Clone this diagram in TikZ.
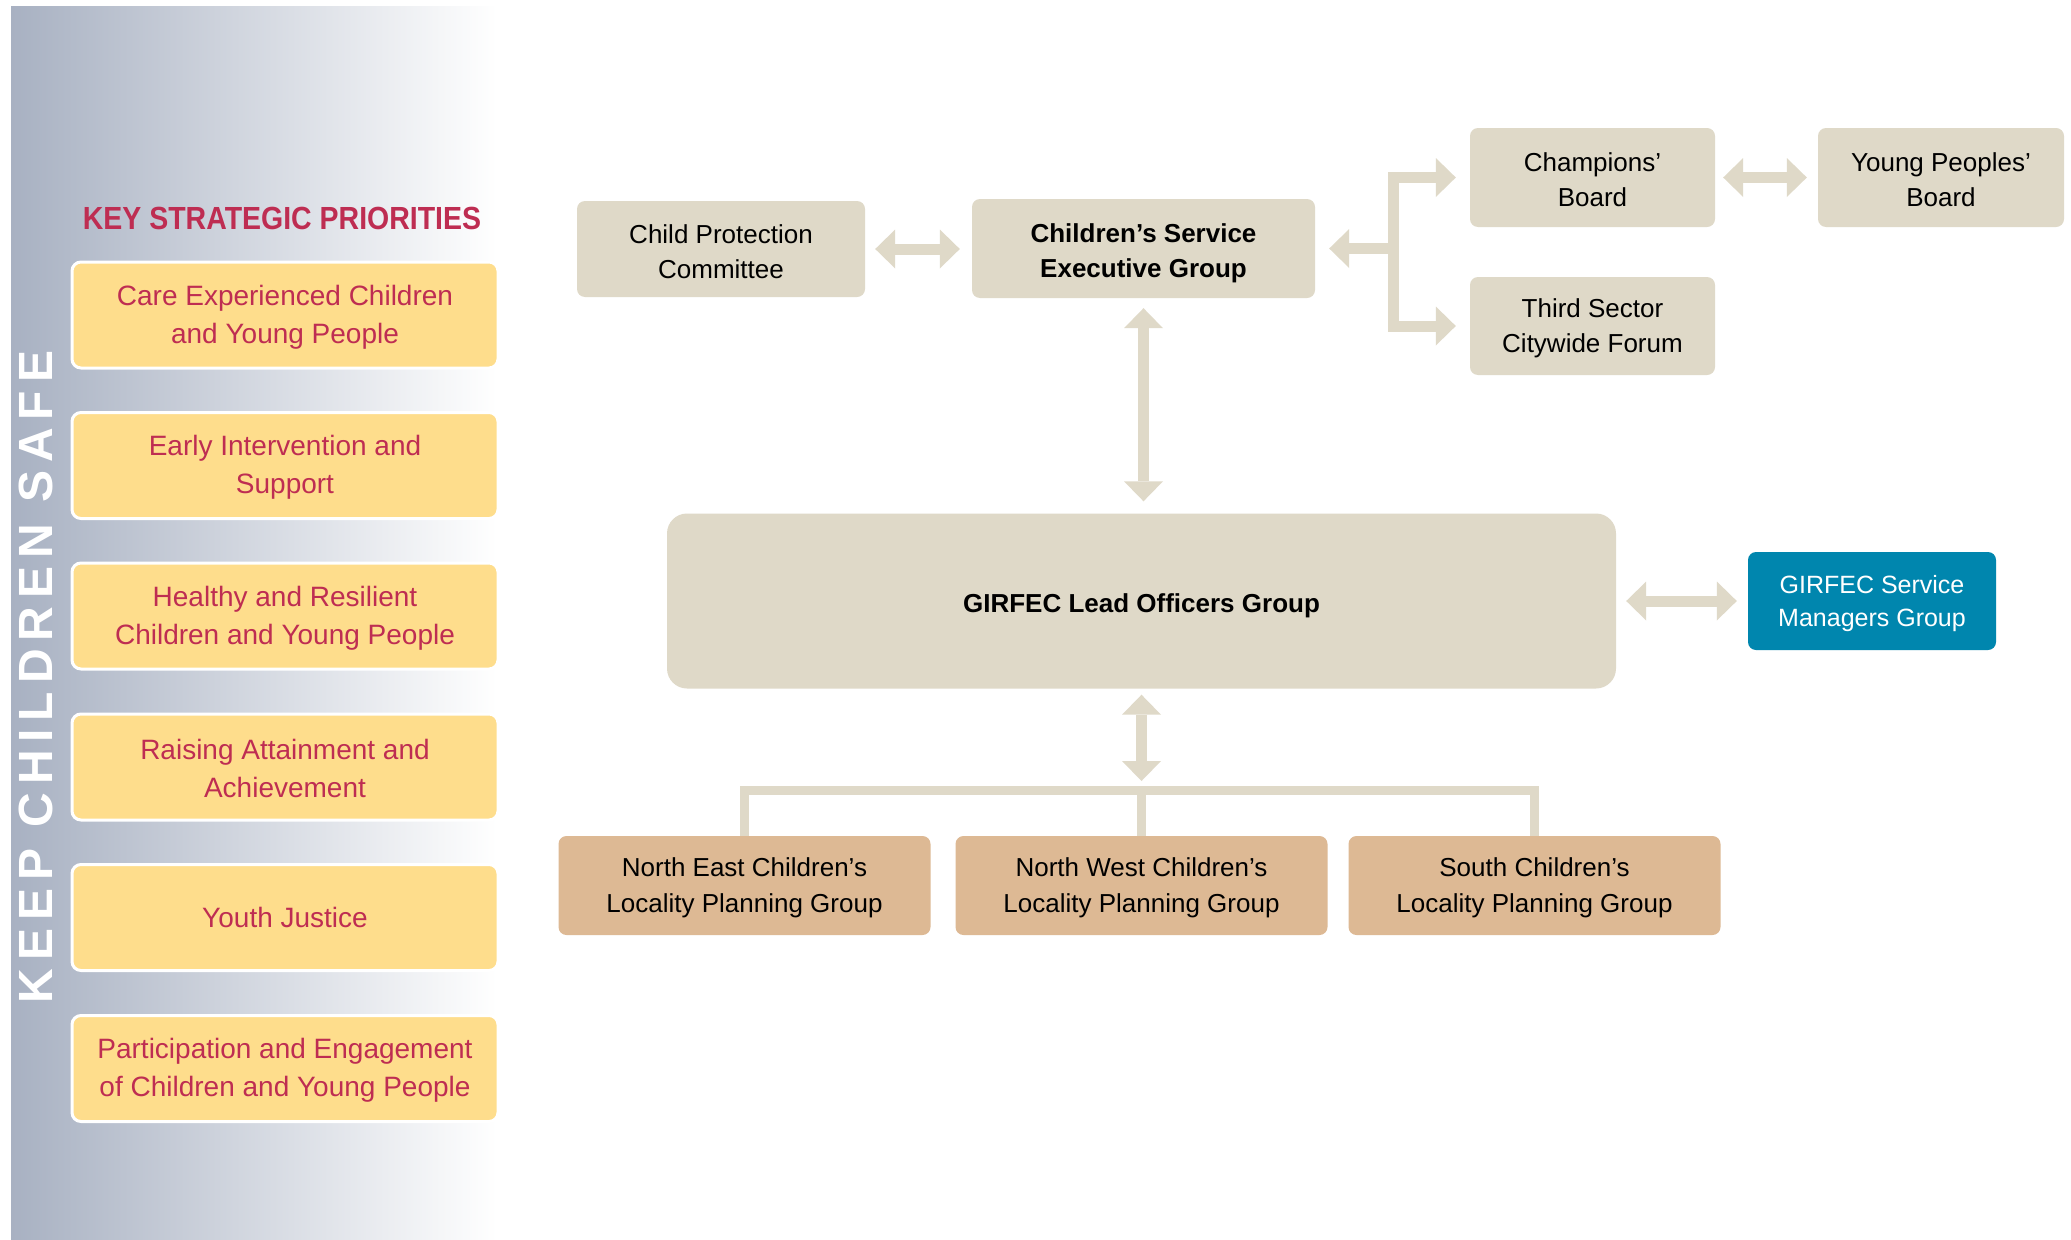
\documentclass[tikz,border=0pt]{standalone}
\usepackage{fontspec}
\setmainfont{Liberation Sans}
\newfontfamily\keepfont[LetterSpace=16.5]{Liberation Sans}
\usetikzlibrary{arrows.meta,calc}
\definecolor{beige}{HTML}{DFD9C8}
\definecolor{tanbox}{HTML}{DDB994}
\definecolor{gblue}{HTML}{0086AE}
\definecolor{prioyellow}{HTML}{FEDD8C}
\definecolor{crim}{HTML}{BE2D52}
\definecolor{panelgray}{HTML}{A8B1C2}
\newcommand\lowa{\rule{0pt}{24pt}}
\newcommand\lowb{\rule{0pt}{29pt}}
\tikzset{
  fattip/.tip={Triangle[width=39pt,length=20pt,line width=0pt]},
  prio/.style={draw=white, line width=3pt, fill=prioyellow, rounded corners=9pt,
    minimum width=426pt, minimum height=106pt, inner sep=0pt, align=center,
    text=crim, font=\fontsize{28}{38}\selectfont},
  gbox/.style={fill=beige, rounded corners=8pt, inner sep=0pt, align=center,
    font=\fontsize{26}{35}\selectfont},
  lbox/.style={fill=tanbox, rounded corners=8pt, minimum width=372pt,
    minimum height=99pt, inner sep=0pt, align=center, font=\fontsize{26}{36}\selectfont},
  fat/.style={draw=beige, line width=11pt, fattip-fattip},
  fatone/.style={draw=beige, line width=11pt, -fattip},
  bus/.style={draw=beige, line width=9pt},
}
\begin{document}
\begin{tikzpicture}[x=1pt,y=-1pt]
\useasboundingbox (0,0) rectangle (2071,1239);
\fill[white] (0,0) rectangle (2071,1239);
\shade[left color=panelgray, right color=white] (11,7) rectangle (497,1239);

\node[rotate=90, text=white, inner sep=0pt,
  font=\keepfont\bfseries\fontsize{48}{48}\selectfont] (keep) at (36,677) {KEEP CHILDREN SAFE};

\node[text=crim, inner sep=0pt, font=\bfseries\fontsize{32}{32}\selectfont] (ksp) at (282,218)
  {\scalebox{0.89}[1]{KEY STRATEGIC PRIORITIES}};

\node[prio] (p1) at (285,315) {\lowa Care Experienced Children\\and Young People};
\node[prio] (p2) at (285,465.5) {\lowa Early Intervention and\\Support};
\node[prio] (p3) at (285,616) {\lowa Healthy and Resilient\\Children and Young People};
\node[prio] (p4) at (285,767) {\lowa Raising Attainment and\\Achievement};
\node[prio] (p5) at (285,917.5) {Youth Justice};
\node[prio] (p6) at (285,1068.5) {\lowa Participation and Engagement\\of Children and Young People};

\node[gbox, minimum width=288pt, minimum height=96pt] (cpc) at (721,249) {\lowa Child Protection\\Committee};
\node[gbox, minimum width=343pt, minimum height=99pt, font=\bfseries\fontsize{26}{35}\selectfont] (cseg) at (1143.5,248.5) {\lowb Children’s Service\\Executive Group};
\node[gbox, minimum width=245pt, minimum height=99pt] (champ) at (1592.5,177.5) {\lowa Champions’\\Board};
\node[gbox, minimum width=246pt, minimum height=99pt] (yp) at (1941,177.5) {\lowa Young Peoples’\\Board};
\node[gbox, minimum width=245pt, minimum height=98pt] (third) at (1592.5,326) {\lowa Third Sector\\Citywide Forum};
\node[gbox, minimum width=949pt, minimum height=175pt, rounded corners=20pt, font=\bfseries\fontsize{26}{35}\selectfont] (glog) at (1141.5,601) {\lowb GIRFEC Lead Officers Group};
\node[gbox, fill=gblue, text=white, minimum width=248pt, minimum height=98pt, font=\fontsize{25}{33}\selectfont] (gsmg) at (1872,601) {\lowa GIRFEC Service\\Managers Group};
\node[lbox] (ne) at (744.5,885.5) {\lowa North East Children’s\\Locality Planning Group};
\node[lbox] (nw) at (1141.5,885.5) {\lowa North West Children’s\\Locality Planning Group};
\node[lbox] (sth) at (1534.5,885.5) {\lowa South Children’s\\Locality Planning Group};

\draw[fat, shorten <=10pt, shorten >=12pt] (cpc.east) -- (cpc.east -| cseg.west);
\draw[fat, shorten <=10pt, shorten >=12pt] (cseg.south) -- (cseg.south |- glog.north);
\draw[fat, shorten <=10pt, shorten >=11pt] (glog.east) -- (gsmg.west);
\draw[fat, shorten <=8pt, shorten >=11pt] (champ.east) -- (yp.west);

\coordinate (bj) at ($(cseg.east)+(78,0)$);
\draw[fatone, shorten >=14pt] (bj) -- (cseg.east);
\draw[fat, shorten <=14pt, shorten >=14pt] (champ.west) -- (bj |- champ.west) -- (bj |- third.west) -- (third.west);

\coordinate (busy) at (1142,790);
\draw[bus] (ne.north) -- (ne.north |- busy) -- (sth.north |- busy) -- (sth.north);
\draw[bus] (nw.north) -- (nw.north |- busy);
\draw[fat, shorten <=6pt] (glog.south) -- ($(glog.south |- busy)+(0,-9)$);
\end{tikzpicture}
\end{document}
